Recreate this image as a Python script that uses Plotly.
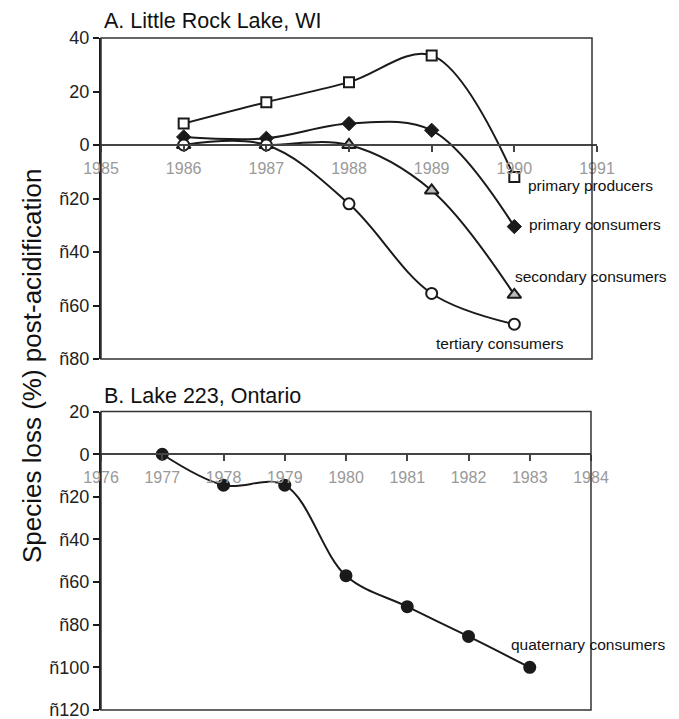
import plotly.graph_objects as go
from plotly.subplots import make_subplots

# Panel A: Little Rock Lake, WI
years_a = [1986, 1987, 1988, 1989, 1990]
primary_producers = [8, 16, 23.5, 33.5, -12]
primary_consumers = [3, 2.5, 8, 5.5, -30.5]
secondary_consumers = [0, 0, 0, -17, -56]
tertiary_consumers = [0, 0, -22, -55.5, -67]

# Panel B: Lake 223, Ontario
years_b = [1977, 1978, 1979, 1980, 1981, 1982, 1983]
quaternary_consumers = [0, -14.5, -14.5, -57, -71.5, -85.5, -100]

# tick labels (as printed in the original figure)
ticks_a = [40, 20, 0, -20, -40, -60, -80]
ticks_a_text = ['40', '20', '0', 'ñ20', 'ñ40', 'ñ60', 'ñ80']
ticks_b = [20, 0, -20, -40, -60, -80, -100, -120]
ticks_b_text = ['20', '0', 'ñ20', 'ñ40', 'ñ60', 'ñ80', 'ñ100', 'ñ120']
xticks_a = [1985, 1986, 1987, 1988, 1989, 1990, 1991]
xticks_b = [1976, 1977, 1978, 1979, 1980, 1981, 1982, 1983, 1984]

# the page body adds an 8px margin, so the figure is laid out 8px smaller
OFF = 8
W, H = 679 - OFF, 719 - OFF
FONT = 'Liberation Sans, Arial, sans-serif'
INK = '#1a1a1a'


def px_x(p):
    return (p - OFF) / W


def px_y(p):
    return 1 - (p - OFF) / H


fig = make_subplots(rows=2, cols=1)

line = dict(color=INK, width=2, shape='spline', smoothing=1)

fig.add_trace(go.Scatter(
    x=years_a, y=primary_producers, mode='lines+markers', line=line,
    marker=dict(symbol='square', size=10, color='white', line=dict(color=INK, width=2)),
    name='primary producers'), row=1, col=1)
fig.add_trace(go.Scatter(
    x=years_a, y=primary_consumers, mode='lines+markers', line=line,
    marker=dict(symbol='diamond', size=11, color=INK, line=dict(color=INK, width=1)),
    name='primary consumers'), row=1, col=1)
fig.add_trace(go.Scatter(
    x=years_a, y=secondary_consumers, mode='lines+markers', line=line,
    marker=dict(symbol='triangle-up', size=12, color='#bbbbbb', line=dict(color=INK, width=2)),
    name='secondary consumers'), row=1, col=1)
fig.add_trace(go.Scatter(
    x=years_a, y=tertiary_consumers, mode='lines+markers', line=line,
    marker=dict(symbol='circle', size=11, color='white', line=dict(color=INK, width=2)),
    name='tertiary consumers'), row=1, col=1)

fig.add_trace(go.Scatter(
    x=years_b, y=quaternary_consumers, mode='lines+markers', line=line,
    marker=dict(symbol='circle', size=13, color=INK),
    name='quaternary consumers'), row=2, col=1)

# plot areas (pixel-based layout)
dom_a_y = [px_y(359), px_y(38)]
dom_b_y = [px_y(710), px_y(411.6)]
dom_a_x = [px_x(101), px_x(597)]
dom_b_x = [px_x(101), px_x(591)]

# x axes cross the y axes at zero
pos_a = dom_a_y[0] + (0 - (-80)) / 120 * (dom_a_y[1] - dom_a_y[0])
pos_b = dom_b_y[0] + (0 - (-120)) / 140 * (dom_b_y[1] - dom_b_y[0])

xcommon = dict(showgrid=False, zeroline=False, showline=True, linecolor='#444',
               linewidth=1.5, ticks='outside', ticklen=6, tickwidth=1.5,
               tickcolor='#444', tickfont=dict(family=FONT, size=16, color='#999999'),
               ticklabelstandoff=3, anchor='free', automargin=False)
ycommon = dict(showgrid=False, zeroline=False, showline=True, linecolor=INK,
               linewidth=2, ticks='outside', ticklen=6, tickwidth=1.5,
               tickcolor=INK, tickfont=dict(family=FONT, size=18, color='#222222'),
               ticklabeloverflow='allow', automargin=False)

fig.update_layout(
    xaxis=dict(xcommon, domain=dom_a_x, range=[1985, 1991], tickvals=xticks_a,
               position=pos_a),
    yaxis=dict(ycommon, domain=dom_a_y, range=[-80, 40], tickvals=ticks_a,
               ticktext=ticks_a_text),
    xaxis2=dict(xcommon, domain=dom_b_x, range=[1976, 1984], tickvals=xticks_b,
                position=pos_b),
    yaxis2=dict(ycommon, domain=dom_b_y, range=[-120, 20], tickvals=ticks_b,
                ticktext=ticks_b_text),
)

# frame around each plot area
box = dict(color='#333333', width=1.5)
fig.add_shape(type='rect', xref='paper', yref='paper', x0=px_x(101), x1=px_x(592),
              y0=dom_a_y[0], y1=dom_a_y[1], line=box)
fig.add_shape(type='rect', xref='paper', yref='paper', x0=px_x(101), x1=px_x(591),
              y0=dom_b_y[0], y1=dom_b_y[1], line=box)

label_font = dict(family=FONT, size=15.5, color='#111111')
labels = [
    ('primary producers', 1990.15, -15.2, 'x', 'y'),
    ('primary consumers', 1990.17, -29.9, 'x', 'y'),
    ('secondary consumers', 1990.0, -49.2, 'x', 'y'),
    ('tertiary consumers', 1989.04, -74.1, 'x', 'y'),
    ('quaternary consumers', 1982.68, -89.4, 'x2', 'y2'),
]
for text, lx, ly, xr, yr in labels:
    fig.add_annotation(text=text, x=lx, y=ly, xref=xr, yref=yr, xanchor='left',
                       yanchor='middle', showarrow=False, font=label_font, borderpad=0)

title_font = dict(family=FONT, size=21.5, color='#111111')
fig.add_annotation(text='A. Little Rock Lake, WI', x=px_x(103), y=px_y(21),
                   xref='paper', yref='paper', xanchor='left', yanchor='middle',
                   showarrow=False, font=title_font, borderpad=0)
fig.add_annotation(text='B. Lake 223, Ontario', x=px_x(103), y=px_y(396),
                   xref='paper', yref='paper', xanchor='left', yanchor='middle',
                   showarrow=False, font=title_font, borderpad=0)
fig.add_annotation(text='Species loss (%) post-acidification', x=px_x(32), y=px_y(366),
                   xref='paper', yref='paper', xanchor='center', yanchor='middle',
                   textangle=-90, showarrow=False,
                   font=dict(family=FONT, size=26, color='#111111'), borderpad=0)

fig.update_layout(
    width=W, height=H,
    margin=dict(l=0, r=0, t=0, b=0),
    paper_bgcolor='white',
    plot_bgcolor='white',
    showlegend=False,
)

fig.write_html("out.html")
